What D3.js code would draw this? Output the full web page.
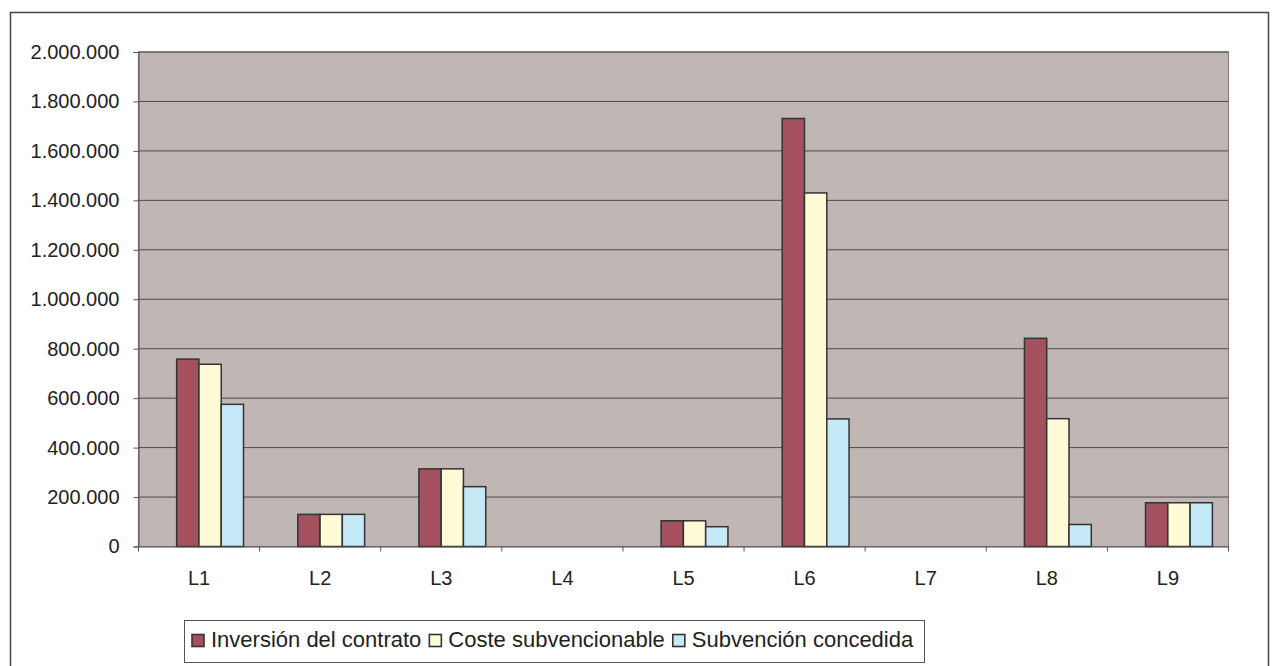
<!DOCTYPE html>
<html>
<head>
<meta charset="utf-8">
<script src="https://cdn.jsdelivr.net/npm/d3@7/dist/d3.min.js"></script>
<style>
    body { margin: 0; background: #fff; }
    text { font-family: "Liberation Sans", Arial, sans-serif; fill: #222; }
</style>
</head>
<body>
<svg width="1272" height="666"></svg>
<script>
    var categories = ["L1", "L2", "L3", "L4", "L5", "L6", "L7", "L8", "L9"];
    var seriesNames = ["Inversión del contrato", "Coste subvencionable", "Subvención concedida"];
    var inversion = [758000, 130000, 314000, 0, 104000, 1731000, 0, 842000, 177000];
    var coste = [737000, 130000, 314000, 0, 104000, 1430000, 0, 517000, 177000];
    var subvencion = [575000, 130000, 242000, 0, 80000, 516000, 0, 89000, 177000];
    var yTicks = [0, 200000, 400000, 600000, 800000, 1000000, 1200000, 1400000, 1600000, 1800000, 2000000];
    var colors = ["#a5505e", "#fffbd6", "#c6e9f8"];

    var series = [inversion, coste, subvencion];
    var svg = d3.select("svg");

    // plot box (don't use "top", it's window.top)
    var plotLeft = 138.5, plotRight = 1228.5, plotTop = 52, plotBottom = 546.5;

    // outer frame
    svg.append("rect")
        .attr("x", 10.5).attr("y", 12.5)
        .attr("width", 1258).attr("height", 660)
        .attr("fill", "#fff").attr("stroke", "#444").attr("stroke-width", 1.5);

    var x = d3.scaleBand().domain(categories).range([plotLeft, plotRight]).padding(0);
    var bw = x.bandwidth();
    var xInner = d3.scaleBand().domain([0, 1, 2])
        .range([0.315 * bw, 0.315 * bw + 3 * 0.184 * bw]);
    var y = d3.scaleLinear().domain([0, 2000000]).range([plotBottom, plotTop]);

    // plot area
    svg.append("rect")
        .attr("x", plotLeft).attr("y", plotTop)
        .attr("width", plotRight - plotLeft).attr("height", plotBottom - plotTop)
        .attr("fill", "#c0b7b5").attr("stroke", "#8a7f7e").attr("stroke-width", 1.2);

    // gridlines
    svg.append("g").selectAll("line")
        .data(yTicks.filter(function (d) { return d > 0; }))
        .enter().append("line")
        .attr("x1", plotLeft).attr("x2", plotRight)
        .attr("y1", function (d) { return y(d); })
        .attr("y2", function (d) { return y(d); })
        .attr("stroke", "#4a4a4a").attr("stroke-width", 1);

    // y axis
    var fmt = function (d) { return d3.format(",")(d).replace(/,/g, "."); };
    var yAxis = svg.append("g")
        .attr("transform", "translate(" + plotLeft + ",0)")
        .call(d3.axisLeft(y).tickValues(yTicks).tickFormat(fmt).tickSize(5).tickPadding(14));
    yAxis.select(".domain").attr("stroke", "#555");
    yAxis.selectAll(".tick line").attr("stroke", "#555");
    yAxis.selectAll("text").attr("font-size", 20).attr("fill", "#222")
        .style("font-family", "'Liberation Sans', Arial, sans-serif");

    // bars
    var groups = svg.append("g").selectAll("g")
        .data(categories)
        .enter().append("g")
        .attr("transform", function (d) { return "translate(" + x(d) + ",0)"; });
    groups.selectAll("rect")
        .data(function (d, i) { return series.map(function (s, k) { return { k: k, v: s[i] }; }); })
        .enter().append("rect")
        .filter(function (d) { return d.v > 0; })
        .attr("x", function (d) { return xInner(d.k); })
        .attr("width", xInner.bandwidth())
        .attr("y", function (d) { return y(d.v); })
        .attr("height", function (d) { return plotBottom - y(d.v); })
        .attr("fill", function (d) { return colors[d.k]; })
        .attr("stroke", "#333").attr("stroke-width", 1.5);

    // x axis
    var xAxis = svg.append("g")
        .attr("transform", "translate(0," + plotBottom + ")")
        .call(d3.axisBottom(x).tickSize(0).tickPadding(24));
    xAxis.select(".domain").attr("stroke", "#555").attr("stroke-width", 1.2);
    xAxis.selectAll("text").attr("font-size", 20).attr("fill", "#222")
        .style("font-family", "'Liberation Sans', Arial, sans-serif");
    var bounds = categories.map(function (c) { return x(c); }).concat([plotRight]);
    svg.append("g").selectAll("line")
        .data(bounds)
        .enter().append("line")
        .attr("x1", function (d) { return d; }).attr("x2", function (d) { return d; })
        .attr("y1", plotBottom).attr("y2", plotBottom + 5)
        .attr("stroke", "#555");

    // legend
    var legend = svg.append("g");
    legend.append("rect")
        .attr("x", 184.5).attr("y", 620.5)
        .attr("width", 740).attr("height", 42)
        .attr("fill", "#fff").attr("stroke", "#555").attr("stroke-width", 1);
    var lx = 192;
    seriesNames.forEach(function (name, k) {
        legend.append("rect")
            .attr("x", lx).attr("y", 634.5)
            .attr("width", 12).attr("height", 12)
            .attr("fill", colors[k]).attr("stroke", "#333").attr("stroke-width", 1.6);
        var t = legend.append("text")
            .attr("x", lx + 19).attr("y", 647)
            .attr("font-size", 22)
            .text(name);
        lx = lx + 19 + t.node().getComputedTextLength() + 8;
    });
</script>
</body>
</html>
